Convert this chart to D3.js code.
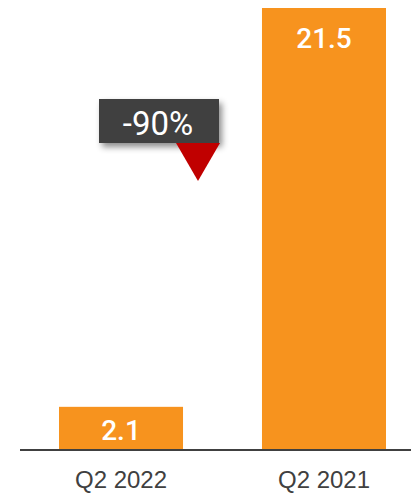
<!DOCTYPE html>
<html>
<head>
<meta charset="utf-8">
<script src="https://cdn.jsdelivr.net/npm/d3@7"></script>
<style>
  body { margin: 0; background: #fff; }
  svg { display: block; font-family: Roboto, "Liberation Sans", sans-serif; }
</style>
</head>
<body>
<svg id="chart"></svg>
<script>
const categories = ['Q2 2022', 'Q2 2021'];
const values = [2.1, 21.5];
const changeLabel = '-90%';

const width = 411, height = 495;
const margin = {top: 8, right: 0, bottom: 45, left: 20};

const svg = d3.select('#chart')
    .attr('width', width)
    .attr('height', height);

const innerW = width - margin.left - margin.right;
const innerH = height - margin.top - margin.bottom;

const chart = svg.append('g')
    .attr('transform', `translate(${margin.left}, ${margin.top})`);

const xscale = d3.scaleBand()
    .domain(categories)
    .range([39, 366])
    .paddingInner(0.389)
    .paddingOuter(0);

const yscale = d3.scaleLinear()
    .domain([0, d3.max(values)])
    .range([innerH, 0]);

chart.selectAll('rect.bar')
    .data(values)
    .join('rect')
    .attr('class', 'bar')
    .attr('x', (d, i) => xscale(categories[i]))
    .attr('y', d => yscale(d))
    .attr('width', xscale.bandwidth())
    .attr('height', d => innerH - yscale(d))
    .attr('fill', '#F7931E');

// value labels: near the top of tall bars, centred in short ones
chart.selectAll('text.val')
    .data(values)
    .join('text')
    .attr('class', 'val')
    .attr('x', (d, i) => xscale(categories[i]) + xscale.bandwidth() / 2)
    .attr('y', d => Math.min(yscale(d) + 40, (yscale(d) + innerH) / 2 + 12))
    .attr('text-anchor', 'middle')
    .style('font-size', '28px')
    .style('font-weight', '500')
    .attr('fill', '#fff')
    .text(d => d);

// x axis
const xaxis = d3.axisBottom(xscale).tickSize(0).tickPadding(21);
const xg = chart.append('g')
    .attr('transform', `translate(0, ${innerH})`)
    .call(xaxis);
xg.select('.domain')
    .attr('d', `M0,0H${innerW}`)
    .attr('stroke', '#404040')
    .attr('stroke-width', 2);
xg.selectAll('text')
    .style('font-size', '24px')
    .attr('fill', '#404040');

// change callout
const defs = svg.append('defs');
const f = defs.append('filter').attr('id', 'shadow')
    .attr('x', '-20%').attr('y', '-20%').attr('width', '150%').attr('height', '160%');
f.append('feDropShadow')
    .attr('dx', 3).attr('dy', 4).attr('stdDeviation', 3)
    .attr('flood-color', '#000').attr('flood-opacity', 0.45);

const callout = svg.append('g');
callout.append('rect')
    .attr('x', 99).attr('y', 99)
    .attr('width', 120).attr('height', 44)
    .attr('fill', '#404040')
    .attr('filter', 'url(#shadow)');
callout.append('text')
    .attr('x', 158).attr('y', 135)
    .attr('text-anchor', 'middle')
    .style('font-size', '33px')
    .attr('fill', '#fff')
    .text(changeLabel);
callout.append('path')
    .attr('d', 'M176,143 L220,143 L198,181 Z')
    .attr('fill', '#C00000');
</script>
</body>
</html>
